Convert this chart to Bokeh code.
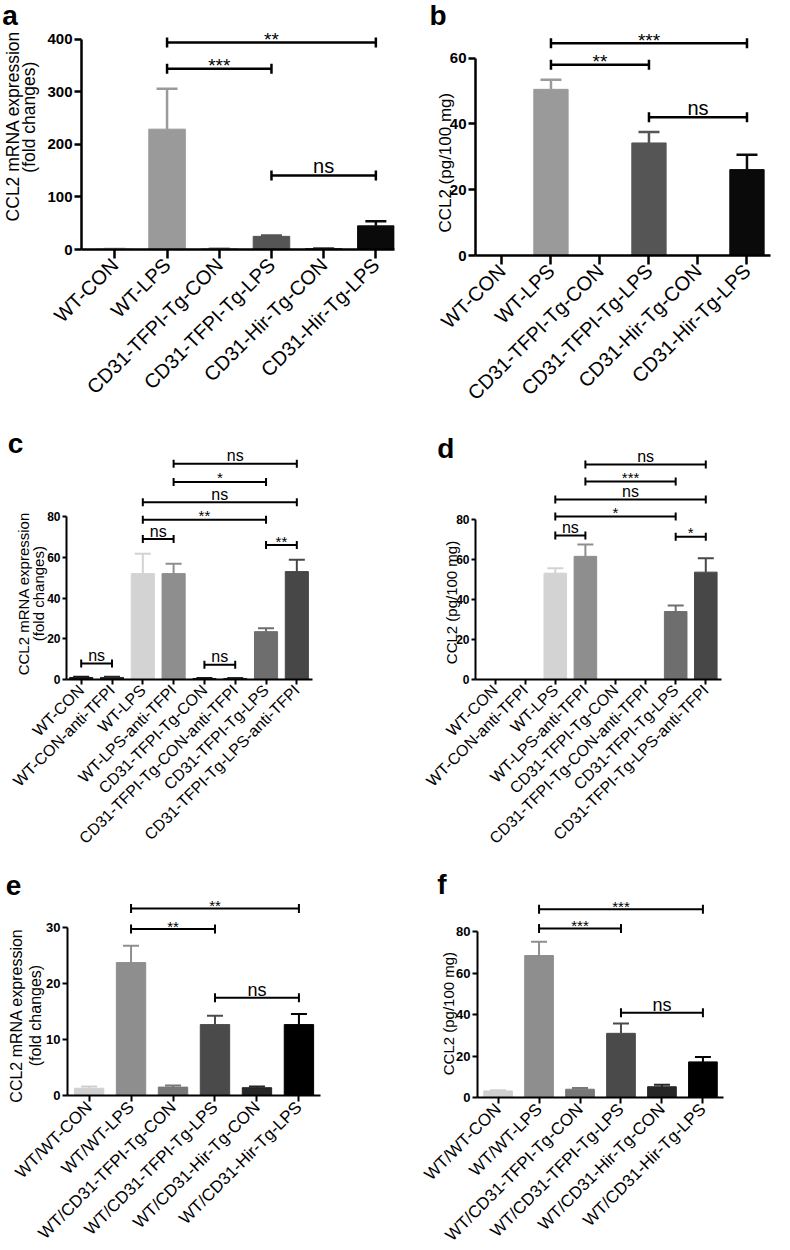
from math import pi
from bokeh.plotting import figure
from bokeh.layouts import column, row
from bokeh.models import Range1d, FixedTicker, Title, ColumnDataSource
from bokeh.core.properties import value
from bokeh.embed import file_html
from bokeh.resources import INLINE

FONT = "Liberation Sans"

# ---------------- data ----------------
cats_a = ["WT-CON", "WT-LPS", "CD31-TFPI-Tg-CON", "CD31-TFPI-Tg-LPS", "CD31-Hir-Tg-CON", "CD31-Hir-Tg-LPS"]
mean_a = [1.0, 229, 1.0, 25, 1.5, 45]
sem_a = [0.3, 77, 0.3, 1.5, 0.3, 9]
sig_a = [(1, 5, 394, "**"), (1, 3, 344, "***"), (3, 5, 141, "ns")]
yticks_a = [0, 100, 200, 300, 400]

cats_b = cats_a
mean_b = [0, 50.5, 0, 34.2, 0, 26.1]
sem_b = [0, 2.9, 0, 3.3, 0, 4.5]
sig_b = [(1, 5, 64.5, "***"), (1, 3, 58, "**"), (3, 5, 42, "ns")]
yticks_b = [0, 20, 40, 60]

cats_c = ["WT-CON", "WT-CON-anti-TFPI", "WT-LPS", "WT-LPS-anti-TFPI", "CD31-TFPI-Tg-CON",
          "CD31-TFPI-Tg-CON-anti-TFPI", "CD31-TFPI-Tg-LPS", "CD31-TFPI-Tg-LPS-anti-TFPI"]
mean_c = [1.0, 1.0, 52, 52, 0.5, 0.5, 23.5, 53]
sem_c = [0.3, 0.3, 9.8, 4.8, 0.2, 0.2, 1.7, 5.8]
sig_c = [(0, 1, 7.8, "ns"), (4, 5, 7.3, "ns"), (2, 3, 69, "ns"), (6, 7, 66, "**"),
         (2, 6, 78.5, "**"), (2, 7, 87, "ns"), (3, 6, 97, "*"), (3, 7, 106, "ns")]
yticks_c = [0, 20, 40, 60, 80]

cats_d = cats_c
mean_d = [0, 0, 53.2, 61.6, 0, 0, 34, 53.7]
sem_d = [0, 0, 2.5, 5.9, 0, 0, 3.0, 6.9]
sig_d = [(2, 3, 72, "ns"), (6, 7, 71.4, "*"), (2, 6, 81.5, "*"), (2, 7, 90, "ns"),
         (3, 6, 99, "***"), (3, 7, 107.5, "ns")]
yticks_d = [0, 20, 40, 60, 80]

cats_e = ["WT/WT-CON", "WT/WT-LPS", "WT/CD31-TFPI-Tg-CON", "WT/CD31-TFPI-Tg-LPS",
          "WT/CD31-Hir-Tg-CON", "WT/CD31-Hir-Tg-LPS"]
mean_e = [1.3, 23.8, 1.5, 12.7, 1.4, 12.7]
sem_e = [0.3, 3.0, 0.3, 1.6, 0.2, 1.9]
sig_e = [(1, 5, 33.5, "**"), (1, 3, 29.8, "**"), (3, 5, 17.5, "ns")]
yticks_e = [0, 10, 20, 30]

cats_f = cats_e
mean_f = [3.2, 68.6, 4.0, 31, 5.2, 17.2]
sem_f = [0.3, 6.7, 0.6, 4.8, 1.0, 2.4]
sig_f = [(1, 5, 91, "***"), (1, 3, 81.6, "***"), (3, 5, 41, "ns")]
yticks_f = [0, 20, 40, 60, 80]

colors_ab = ["#c8c8c8", "#9a9a9a", "#777777", "#555555", "#333333", "#0a0a0a"]
colors_cd = ["#1a1a1a", "#2a2a2a", "#d3d3d3", "#8e8e8e", "#1a1a1a", "#2a2a2a", "#6e6e6e", "#474747"]
colors_ef = ["#d0d0d0", "#8e8e8e", "#777777", "#4a4a4a", "#262626", "#000000"]

# ---------------- layout (reference pixel geometry) ----------------
SX = 774 / 790
SY = 1234 / 1250
COLS = [(0, 410), (410, 790)]
ROWS = [(0, 410), (410, 862), (862, 1250)]
col_w = [round(410 * SX)]
col_w.append(774 - col_w[0])
row_h = [round(410 * SY), round(452 * SY)]
row_h.append(1234 - sum(row_h))

# Arial / Liberation Sans advance widths (1/1000 em) for label length estimates
AW = {' ': 278, '(': 333, ')': 333, '/': 278, '0': 556, '1': 556, '2': 556, 'C': 722, 'L': 556,
      'R': 722, 'N': 722, 'A': 667, 'm': 833, 'e': 556, 'x': 500, 'p': 556, 'r': 333, 's': 500,
      'i': 222, 'o': 556, 'n': 556, 'f': 278, 'l': 222, 'd': 556, 'c': 500, 'h': 556, 'a': 556,
      'g': 556}


def text_len(t, fs):
    return sum(AW.get(ch, 556) for ch in t) / 1000 * fs


def panel(cats, mean, sem, colors, sig, yticks, letter, ylab, ci, ri, g, st):
    colx = COLS[ci][0]
    rowy = ROWS[ri][0]
    x0, dx, left, right = g["x0"], g["dx"], g["left"], g["right"]
    y0, k, top = g["y0"], g["k"], g["top"]
    mbl = round((left - colx) * SX)
    fw = round((right - left) * SX)
    mbr = col_w[ci] - mbl - fw
    mbt = round((top - rowy) * SY)
    fh = round((y0 - top) * SY)
    mbb = row_h[ri] - mbt - fh

    p = figure(frame_width=fw, frame_height=fh, min_border_left=mbl, min_border_right=mbr,
               min_border_top=mbt, min_border_bottom=mbb,
               x_range=Range1d((left - x0) / dx, (right - x0) / dx),
               y_range=Range1d(0, (y0 - top) / k),
               output_backend="svg", toolbar_location=None, tools="")
    p.grid.visible = False
    p.outline_line_color = None
    p.background_fill_color = "white"
    p.border_fill_color = "white"

    n = len(cats)
    xs = list(range(n))
    p.vbar(x=xs, top=mean, width=st["bw"], fill_color=colors, line_color=colors, line_width=1)

    ex = [i for i in xs if sem[i] > 0]
    ey0 = [mean[i] for i in ex]
    ey1 = [mean[i] + sem[i] for i in ex]
    ec = [colors[i] for i in ex]
    p.segment(x0=ex, y0=ey0, x1=ex, y1=ey1, line_color=ec, line_width=st["lw"])
    p.scatter(x=ex, y=ey1, marker="dash", size=st["cap"], line_color=ec, line_width=st["lw"])

    # significance brackets
    sx0 = [s[0] for s in sig]
    sx1 = [s[1] for s in sig]
    sy = [s[2] for s in sig]
    st_txt = [s[3] for s in sig]
    p.segment(x0=sx0, y0=sy, x1=sx1, y1=sy, line_color="black", line_width=st["lw"])
    p.scatter(x=sx0 + sx1, y=sy + sy, marker="dash", angle=pi / 2, size=st["bh"],
              line_color="black", line_width=st["lw"])
    stars = [i for i in range(len(sig)) if st_txt[i] != "ns"]
    nss = [i for i in range(len(sig)) if st_txt[i] == "ns"]
    for idx, fs, off in ((stars, st["star_fs"], st["star_off"]), (nss, st["ns_fs"], st["ns_off"])):
        if not idx:
            continue
        src = ColumnDataSource(dict(x=[(sx0[i] + sx1[i]) / 2 for i in idx], y=[sy[i] for i in idx],
                                    t=[st_txt[i] for i in idx]))
        p.text(x="x", y="y", text="t", source=src, text_align="center", text_baseline="alphabetic",
               y_offset=off, text_font=value(FONT), text_font_size=fs, text_color="black")

    # axes
    ya = p.yaxis[0]
    ya.ticker = FixedTicker(ticks=yticks)
    ya.bounds = (yticks[0], yticks[-1])
    ya.minor_tick_line_color = None
    ya.major_tick_in = 0
    ya.major_tick_out = st["ytick"]
    ya.axis_line_width = st["aw"]
    ya.major_tick_line_width = st["aw"]
    ya.major_label_text_font = FONT
    ya.major_label_text_font_style = "bold"
    ya.major_label_text_font_size = st["tick_fs"]
    ya.major_label_text_color = "black"
    ya.major_label_standoff = 2

    xa = p.xaxis[0]
    xa.ticker = FixedTicker(ticks=xs)
    xa.major_label_overrides = {i: c for i, c in enumerate(cats)}
    xa.major_label_orientation = pi / 4
    xa.minor_tick_line_color = None
    xa.major_tick_in = 0
    xa.major_tick_out = st["xtick"]
    xa.axis_line_width = st["aw"]
    xa.major_tick_line_width = st["aw"]
    xa.major_label_text_font = FONT
    xa.major_label_text_font_size = st["cat_fs"]
    xa.major_label_text_color = "black"
    xa.major_label_standoff = 3

    # panel letter (title above the frame)
    ltxt, lleft, lshift = letter
    p.title.text = ltxt
    p.title.align = "left"
    p.title.vertical_align = "bottom"
    p.title.offset = (lleft - left) * SX
    p.title.standoff = -2 * lshift
    p.title.text_font = FONT
    p.title.text_font_style = "bold"
    p.title.text_font_size = "28px"
    p.title.text_color = "black"

    # y labels (inner line first)
    for txt, ry, fs, so in ylab:
        L = text_len(txt, fs)
        off = (y0 - ry) * SY - L / 2
        t = Title(text=txt, align="left", vertical_align="bottom", offset=off, standoff=so,
                  text_font=FONT, text_font_style="normal", text_font_size=f"{fs}px",
                  text_color="black")
        p.add_layout(t, "left")
    return p


ST_AB = dict(bw=0.7, lw=2.5, cap=21, bh=10, star_fs="19px", star_off=-3, ns_fs="20px", ns_off=-9,
             ytick=7, xtick=9, aw=2.5, tick_fs="15px", cat_fs="20px")
ST_CD = dict(bw=0.75, lw=2, cap=16, bh=8, star_fs="15px", star_off=-4, ns_fs="16px", ns_off=-8,
             ytick=4, xtick=5, aw=2, tick_fs="12px", cat_fs="16px")
ST_EF = dict(bw=0.7, lw=2, cap=16, bh=9, star_fs="15px", star_off=-3, ns_fs="18px", ns_off=-8,
             ytick=5, xtick=6, aw=2, tick_fs="13px", cat_fs="17px")

pa = panel(cats_a, mean_a, sem_a, colors_ab, sig_a, yticks_a, ("a", 2, 5),
           [("(fold changes)", 118, 17.5, 12), ("CCL2 mRNA expression", 127, 17.5, -24)], 0, 0,
           dict(x0=117, dx=53.2, left=83, right=402, y0=252, k=213 / 400, top=25), ST_AB)
pb = panel(cats_b, mean_b, sem_b, colors_ab, sig_b, yticks_b, ("b", 438, 5),
           [("CCL2 (pg/100 mg)", 164, 17, -16)], 1, 0,
           dict(x0=512, dx=50, left=485, right=786, y0=258, k=200 / 60, top=25), ST_AB)
pc = panel(cats_c, mean_c, sem_c, colors_cd, sig_c, yticks_c, ("c", 7, 11),
           [("(fold changes)", 591, 15, -4), ("CCL2 mRNA expression", 591, 15, -4)], 0, 1,
           dict(x0=82, dx=31.43, left=67, right=318, y0=678, k=165 / 80, top=443), ST_CD)
pd_ = panel(cats_d, mean_d, sem_d, colors_cd, sig_d, yticks_d, ("d", 446, 16),
            [("CCL2 (pg/100 mg)", 600, 15, -12)], 1, 1,
            dict(x0=505, dx=30.71, left=485, right=736, y0=678, k=162 / 80, top=443), ST_CD)
pe = panel(cats_e, mean_e, sem_e, colors_ef, sig_e, yticks_e, ("e", 5, 1),
           [("(fold changes)", 1019, 16, 0), ("CCL2 mRNA expression", 1019, 16, 0)], 0, 2,
           dict(x0=90, dx=42.8, left=68, right=326, y0=1100, k=170 / 30, top=895), ST_EF)
pf = panel(cats_f, mean_f, sem_f, colors_ef, sig_f, yticks_f, ("f", 446, 6),
           [("CCL2 (pg/100 mg)", 1017, 15, -6)], 1, 2,
           dict(x0=508, dx=41.8, left=487, right=738, y0=1102, k=168 / 80, top=895), ST_EF)

layout = column(row(pa, pb), row(pc, pd_), row(pe, pf))
open("out.html", "w").write(file_html(layout, INLINE))
